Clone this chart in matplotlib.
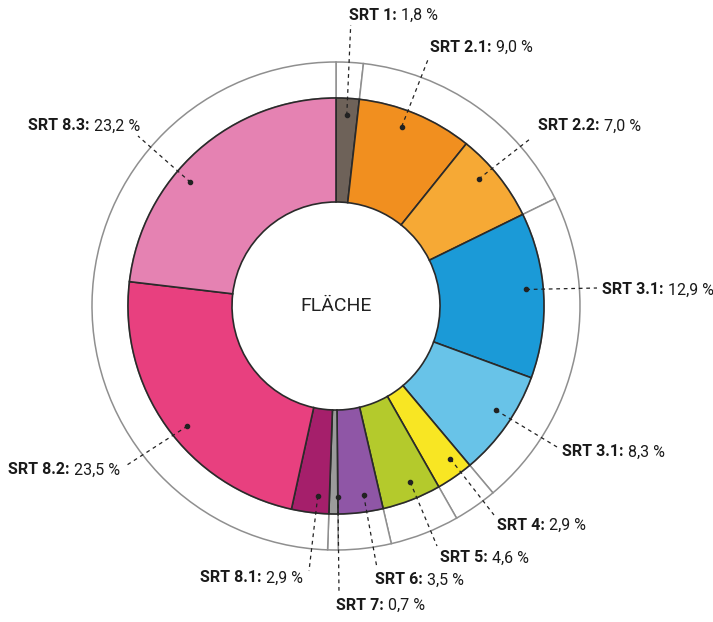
import numpy as np
import pandas as pd
import matplotlib
matplotlib.use("Agg")
from matplotlib import pyplot as plt

plt.rcParams['font.family'] = ['Roboto', 'DejaVu Sans']

labels = ['SRT 1', 'SRT 2.1', 'SRT 2.2', 'SRT 3.1', 'SRT 3.1', 'SRT 4',
          'SRT 5', 'SRT 6', 'SRT 7', 'SRT 8.1', 'SRT 8.2', 'SRT 8.3']
values = [1.8, 9.0, 7.0, 12.9, 8.3, 2.9, 4.6, 3.5, 0.7, 2.9, 23.5, 23.2]
value_text = ['1,8 %', '9,0 %', '7,0 %', '12,9 %', '8,3 %', '2,9 %',
              '4,6 %', '3,5 %', '0,7 %', '2,9 %', '23,5 %', '23,2 %']
colors = ['#6e6259', '#f18f1f', '#f6a935', '#1b9ad7', '#68c3e8', '#f8e623',
          '#b4ca2c', '#8f56a6', '#9b9b9b', '#a51f6b', '#e8407f', '#e582b2']
center_text = 'FLÄCHE'

# outer ring: grouped by main SRT number
df = pd.DataFrame({'label': labels, 'value': values})
df['group'] = df['label'].str.split('.').str[0]
groups = df.groupby('group', sort=False)['value'].sum()

# label layout (text left / vertical center, end of leader line, dot angle tweak)
text_pos = [(13, 291), (94, 259), (202, 180), (266, 16), (226, -146), (161, -219),
            (104, -252), (39, -274), (0, -299), (-136, -272), (-328, -164), (-308, 180)]
line_end = [(14.7, 281), (93, 249), (194, 167), (261, 18), (221, -141), (158, -209),
            (101, -240), (41, -262), (3, -287), (-27, -265), (-209, -159), (-198, 170)]
dot_shift = [0, 2.5, 3, 2, 2, 2, 1.5, 1.5, 1.3, 1.7, 3.5, 8]

fig = plt.figure(figsize=(7.13, 6.22), dpi=100)
ax = fig.add_axes([0, 0, 1, 1])

r_in, r_mid, r_out = 104, 208, 244

ax.pie(groups.values, radius=r_out, startangle=90, counterclock=False,
       colors=['white'] * len(groups),
       wedgeprops=dict(width=r_out - r_mid, edgecolor='#8f8f8f', linewidth=1.1))
wedges, _ = ax.pie(values, radius=r_mid, startangle=90, counterclock=False,
                   colors=colors,
                   wedgeprops=dict(width=r_mid - r_in, edgecolor='#2a2a2a', linewidth=1.2))

ax.text(0, 0, center_text, ha='center', va='center', fontsize=14, color='#222222')

for i, w in enumerate(wedges):
    mid = np.deg2rad((w.theta1 + w.theta2) / 2 + dot_shift[i])
    dx, dy = 191 * np.cos(mid), 191 * np.sin(mid)
    ex, ey = line_end[i]
    ax.plot([dx, ex], [dy, ey], color='#222222', linewidth=0.9, dashes=(3, 3))
    ax.plot(dx, dy, 'o', color='#222222', markersize=3)
    tx, ty = text_pos[i]
    t = ax.text(tx, ty, labels[i] + ':', fontsize=11.5, fontweight='bold',
                ha='left', va='center', color='#1a1a1a')
    ax.annotate(' ' + value_text[i], xy=(1, 0.5), xycoords=t, fontsize=11.5,
                ha='left', va='center', color='#1a1a1a')

ax.set_xlim(-336, 377)
ax.set_ylim(-316, 306)
ax.set_aspect('equal')
ax.axis('off')

plt.savefig('out.png', dpi=100)
